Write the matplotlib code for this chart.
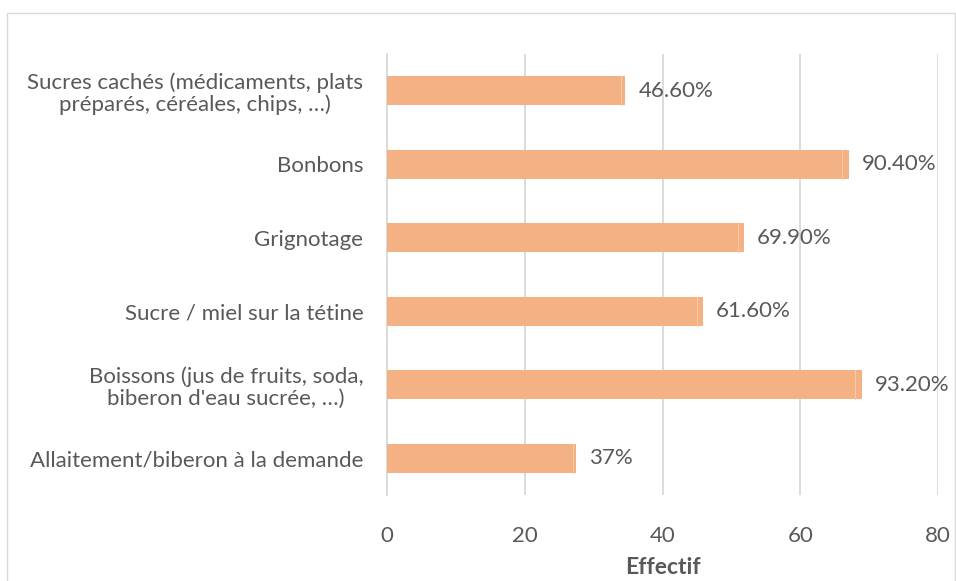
import matplotlib.pyplot as plt
from matplotlib.patches import Rectangle
import numpy as np

plt.rcParams['font.family'] = ['Lato', 'DejaVu Sans']

categories = [
    "Allaitement/biberon à la demande",
    "Boissons (jus de fruits, soda,\nbiberon d'eau sucrée, …)",
    "Sucre / miel sur la tétine",
    "Grignotage",
    "Bonbons",
    "Sucres cachés (médicaments, plats\npréparés, céréales, chips, …)",
]
effectif = [27, 68, 45, 51, 66, 34]
extra = [0.5, 1.0, 0.9, 0.8, 1.1, 0.6]
labels = ["37%", "93.20%", "61.60%", "69.90%", "90.40%", "46.60%"]
xticks = [0, 20, 40, 60, 80]

TEXT = '#595959'
GRID = '#D9D9D9'
BAR = '#F4B183'

fig = plt.figure(figsize=(9.56, 5.81), dpi=100)
fig.patches.append(Rectangle((7 / 956, -0.1), 948 / 956, 1.1 - 13 / 581,
                             transform=fig.transFigure, fill=False,
                             edgecolor='#D9D9D9', linewidth=1))
ax = fig.add_axes([387 / 956, 86 / 581, 551 / 956, 441 / 581])

y = np.arange(len(categories))
ax.barh(y, effectif, height=0.4, color=BAR, zorder=3)
ax.barh(y, extra, left=effectif, height=0.4, color=BAR, zorder=3)
# thin light seam between the two segments, as in the source
for yi, v in zip(y, effectif):
    ax.plot([v, v], [yi - 0.2, yi + 0.2], color='#F8C8A6', linewidth=0.8, zorder=4)

for yi, v, e, lab in zip(y, effectif, extra, labels):
    ax.text(v + e + 1.9, yi, lab, va='center', ha='left', fontsize=16, color=TEXT)

ax.set_xlim(0, 80)
ax.set_ylim(-0.5, len(categories) - 0.5)
ax.set_xticks(xticks)
ax.set_yticks(y)
ax.set_yticklabels(categories, multialignment='center', linespacing=1.1)
ax.tick_params(axis='both', length=0, labelsize=16, labelcolor=TEXT)
ax.tick_params(axis='x', pad=22)
ax.tick_params(axis='y', pad=17)

ax.set_axisbelow(True)
ax.xaxis.grid(color=GRID, linewidth=1.3)
for s in ['top', 'right', 'bottom']:
    ax.spines[s].set_visible(False)
ax.spines['left'].set_color(GRID)
ax.spines['left'].set_linewidth(1.3)

ax.set_xlabel('Effectif', fontsize=16.5, fontweight='bold', color=TEXT, labelpad=8)

fig.savefig('out.png', dpi=100)
